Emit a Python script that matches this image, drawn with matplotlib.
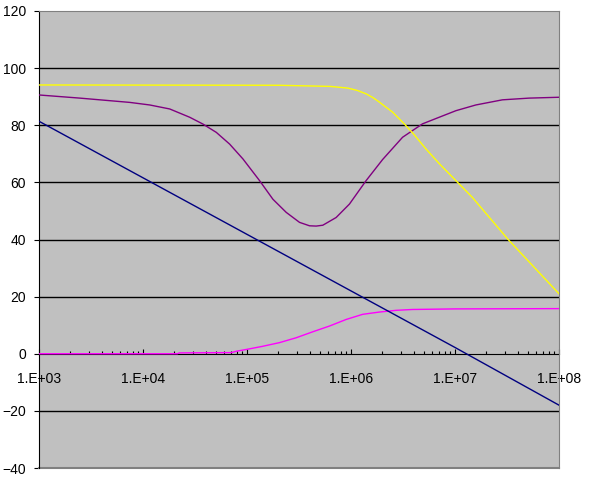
import matplotlib
matplotlib.use("Agg")
import matplotlib.pyplot as plt
import numpy as np
from matplotlib.ticker import FuncFormatter, LogLocator

plt.rcParams['font.family'] = ['Liberation Sans', 'DejaVu Sans']

# data (x given as log10 of frequency)
blue_logf = [3.0, 4.0, 5.0, 6.0, 7.0, 8.0]
blue_val = [81.4, 61.6, 41.8, 22.0, 2.2, -18.0]

yellow_logf = [3.0, 5.3, 5.55, 5.8, 5.97, 6.06, 6.145, 6.21, 6.273, 6.33, 6.4,
               6.512, 6.6, 6.721, 6.85, 7.009, 7.168, 7.511, 8.0]
yellow_val = [94.1, 94.0, 93.8, 93.6, 93.0, 92.2, 91.0, 89.7, 88.1, 86.5, 84.6,
              80.5, 77.0, 71.7, 66.5, 60.6, 54.7, 40.0, 21.0]

purple_logf = [3.0, 3.393, 3.873, 4.065, 4.257, 4.449, 4.577, 4.705, 4.833, 4.961,
               5.121, 5.249, 5.377, 5.505, 5.601, 5.665, 5.729, 5.857, 5.985, 6.145,
               6.304, 6.496, 6.688, 6.848, 7.009, 7.2, 7.456, 7.712, 8.0]
purple_val = [90.6, 89.5, 88.0, 87.1, 85.7, 82.8, 80.4, 77.5, 73.4, 68.2,
              60.6, 54.1, 49.5, 46.0, 44.8, 44.7, 45.0, 47.7, 52.4, 60.6,
              68.0, 75.8, 80.5, 82.8, 85.1, 87.1, 88.9, 89.5, 89.8]

magenta_logf = [3.0, 4.33, 4.35, 4.85, 4.9, 4.993, 5.15, 5.313, 5.473, 5.633, 5.793,
                5.953, 6.112, 6.273, 6.433, 6.592, 7.0, 8.0]
magenta_val = [0.0, 0.0, 0.3, 0.4, 0.9, 1.5, 2.6, 3.9, 5.6, 7.7, 9.7,
               12.0, 13.8, 14.6, 15.2, 15.5, 15.7, 15.8]

y_grid = [-20, 20, 40, 60, 80, 100]

fig = plt.figure(figsize=(5.91, 4.82), dpi=100)
ax = fig.add_axes([39 / 591, 14 / 482, 520 / 591, 457 / 482])
ax.set_facecolor('#C0C0C0')

ax.plot(np.power(10, magenta_logf), magenta_val, color='#FF00FF', lw=1, zorder=3)
ax.plot(np.power(10, purple_logf), purple_val, color='#800080', lw=1, zorder=3)
ax.plot(np.power(10, yellow_logf), yellow_val, color='#FFFF00', lw=1, zorder=3)
ax.plot(np.power(10, blue_logf), blue_val, color='#000080', lw=1, zorder=3)

for g in y_grid:
    ax.axhline(g, color='black', lw=1, zorder=1)

ax.set_xscale('log')
ax.set_xlim(1e3, 1e8)
ax.set_ylim(-40, 120)
ax.set_yticks(np.arange(-40, 121, 20))

ax.xaxis.set_major_locator(LogLocator(base=10))
ax.xaxis.set_minor_locator(LogLocator(base=10, subs=np.arange(2, 10)))
ax.xaxis.set_major_formatter(FuncFormatter(lambda v, p: "1.E+%02d" % round(np.log10(v))))
ax.xaxis.set_minor_formatter(FuncFormatter(lambda v, p: ""))

ax.spines['top'].set_color('#808080')
ax.spines['right'].set_color('#808080')
ax.spines['left'].set_color('black')
ax.spines['bottom'].set_position(('data', 0))
ax.spines['bottom'].set_color('black')
ax.spines['bottom'].set_zorder(2)
ax.axhline(-40, color='#808080', lw=1.5, clip_on=False, zorder=2)

ax.tick_params(axis='y', direction='out', length=3.5, width=0.8, pad=6,
               labelsize=10, color='black')
ax.tick_params(axis='x', which='major', direction='in', length=3.5, width=0.8,
               pad=13, labelsize=10)
ax.tick_params(axis='x', which='minor', direction='in', length=2, width=0.8)

fig.savefig("out.png", dpi=100)
